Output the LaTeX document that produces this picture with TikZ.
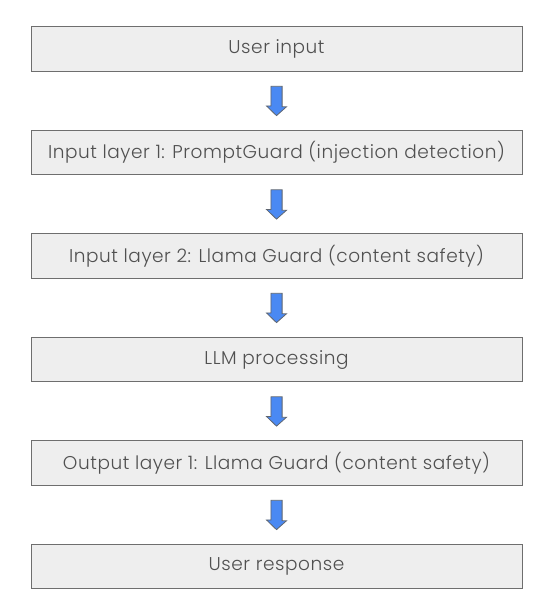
\documentclass[tikz,border=0pt]{standalone}
\usepackage{fontspec}
\setmainfont{Poppins Light}[LetterSpace=3]
\usetikzlibrary{calc}
\definecolor{boxfill}{HTML}{EEEEEE}
\definecolor{boxline}{HTML}{6E6E6E}
\definecolor{txt}{HTML}{505050}
\definecolor{arrfill}{HTML}{4A89F3}
\definecolor{arrline}{HTML}{5F6670}
\tikzset{
  layerbox/.style={draw=boxline, line width=1pt, fill=boxfill, minimum width=491pt, minimum height=44.5pt, inner sep=0pt, text=txt, font=\fontsize{18.5}{22}\selectfont},
  barrow/.style={draw=arrline, line width=0.8pt, fill=arrfill, line join=miter}
}
\newcommand\blockarr[2]{\draw[barrow] ($(#1.south)+(-5.6,14.3)$) -- ++(11.2,0) -- ++(0,20.5) -- ++(4.4,0) -- ($(#2.north)+(0,-14.3)$) -- ++(-10,-9.7) -- ++(4.4,0) -- cycle;}
\begin{document}
\begin{tikzpicture}[x=1pt,y=-1pt]
\useasboundingbox (0,0) rectangle (552,610);
\node[layerbox] (b1) at (276.5,49.2) {User input};
\node[layerbox] (b2) at (276.5,152.7) {Input layer 1: PromptGuard (injection detection)};
\node[layerbox] (b3) at (276.5,256.2) {Input layer 2: Llama Guard (content safety)};
\node[layerbox] (b4) at (276.5,359.7) {LLM processing};
\node[layerbox] (b5) at (276.5,463.2) {Output layer 1: Llama Guard (content safety)};
\node[layerbox] (b6) at (276.5,566.7) {User response};
\blockarr{b1}{b2}
\blockarr{b2}{b3}
\blockarr{b3}{b4}
\blockarr{b4}{b5}
\blockarr{b5}{b6}
\end{tikzpicture}
\end{document}
